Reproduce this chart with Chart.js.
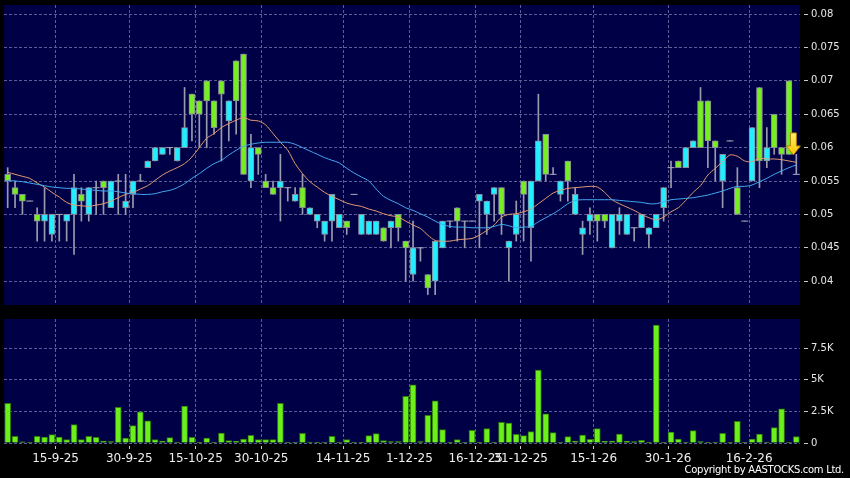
<!DOCTYPE html>
<html lang="en">
<head>
<meta charset="UTF-8" />
<title>Price and Volume</title>
<script src="https://cdn.jsdelivr.net/npm/chart.js"></script>
<style>
  body { margin: 0; background: #000; width: 850px; height: 478px; overflow: hidden; position: relative; font-family: "DejaVu Sans", sans-serif; }
  #pricebox { position: absolute; left: 0; top: 0; width: 850px; height: 310px; }
  #volbox { position: absolute; left: 0; top: 310px; width: 850px; height: 168px; }
  #copy { position: absolute; right: 6px; top: 464px; color: #fff; font-size: 10px; letter-spacing: -0.3px; }
</style>
</head>
<body>
<div id="pricebox"><canvas id="priceChart"></canvas></div>
<div id="volbox"><canvas id="volChart"></canvas></div>
<div id="copy">Copyright by AASTOCKS.com Ltd.</div>

<script>
// daily candles, oldest first
const opens = [
  .056,.054,.053,.052,.050,.049,.047,.050,.049,.050,
  .053,.050,.054,.055,.051,.055,.051,.053,.055,.057,
  .058,.059,.060,.058,.060,.068,.067,.070,.067,.070,
  .064,.073,.074,.055,.060,.055,.054,.054,.054,.052,
  .054,.050,.049,.047,.049,.048,.049,.053,.047,.047,
  .047,.048,.048,.050,.046,.041,.045,.041,.040,.045,
  .049,.051,.049,.049,.052,.050,.053,.054,.045,.047,
  .055,.048,.055,.062,.056,.053,.058,.050,.047,.049,
  .050,.050,.045,.049,.047,.048,.048,.047,.048,.051,
  .057,.058,.057,.060,.067,.067,.061,.055,.061,.054,
  .049,.055,.069,.058,.065,.060,.070,.056
];
const highs = [
  .057,.055,.053,.052,.051,.054,.050,.050,.050,.056,
  .054,.054,.055,.055,.055,.056,.056,.055,.056,.058,
  .060,.060,.060,.060,.069,.068,.067,.070,.067,.070,
  .067,.073,.074,.062,.060,.056,.055,.059,.054,.054,
  .056,.051,.050,.049,.053,.050,.049,.053,.050,.049,
  .049,.048,.049,.050,.046,.049,.045,.041,.046,.049,
  .049,.051,.049,.049,.053,.052,.054,.054,.046,.052,
  .055,.055,.068,.062,.057,.055,.058,.054,.049,.051,
  .050,.050,.050,.051,.050,.048,.050,.048,.050,.054,
  .058,.058,.060,.061,.069,.067,.061,.059,.061,.057,
  .049,.063,.069,.063,.065,.060,.070,.059
];
const lows = [
  .051,.051,.050,.052,.046,.046,.046,.046,.046,.044,
  .049,.049,.050,.050,.051,.050,.050,.051,.055,.057,
  .058,.059,.059,.058,.060,.061,.060,.060,.062,.058,
  .061,.062,.056,.054,.056,.054,.053,.049,.052,.052,
  .050,.050,.048,.046,.046,.048,.047,.053,.047,.047,
  .047,.046,.045,.046,.040,.040,.043,.038,.038,.045,
  .048,.046,.045,.049,.045,.047,.049,.047,.040,.046,
  .046,.043,.055,.055,.056,.052,.052,.050,.044,.047,
  .046,.048,.045,.047,.047,.046,.048,.045,.048,.049,
  .054,.057,.057,.060,.060,.057,.055,.051,.061,.050,
  .049,.055,.054,.057,.059,.056,.059,.056
];
const closes = [
  .055,.053,.052,.052,.049,.050,.050,.050,.050,.054,
  .052,.054,.054,.054,.055,.055,.052,.055,.055,.058,
  .060,.060,.060,.060,.063,.065,.065,.067,.063,.068,
  .067,.067,.056,.060,.059,.054,.053,.055,.054,.053,
  .051,.051,.050,.049,.053,.050,.048,.053,.050,.049,
  .049,.046,.049,.048,.045,.045,.045,.039,.046,.049,
  .049,.049,.049,.049,.053,.052,.054,.050,.046,.050,
  .053,.055,.061,.056,.056,.055,.055,.053,.048,.050,
  .049,.049,.050,.050,.050,.048,.050,.048,.050,.054,
  .057,.057,.060,.061,.060,.061,.060,.059,.061,.050,
  .049,.063,.058,.060,.060,.059,.059,.056
];
const volumes = [
  3130,526,100,80,526,473,658,473,263,1447,
  263,526,447,158,105,2815,395,1368,2473,1762,
  263,158,421,80,2920,447,26,395,30,789,
  184,130,316,605,263,263,263,3130,26,26,
  763,80,53,80,526,80,263,26,53,579,
  737,184,105,105,3682,4605,105,2183,3340,1052,
  53,263,53,1000,26,1131,26,1631,1578,684,
  579,894,5760,2315,815,80,500,158,631,289,
  1131,131,158,710,131,105,210,26,9310,26,
  868,316,26,973,105,26,80,763,26,1710,
  26,316,710,80,1210,2710,80,500
];
// moving averages as drawn (short = orange, long = blue)
const maShort = [
  .0563,.0560,.0557,.0554,.0547,.0541,.0533,.0526,.0518,.0514,
  .0513,.0512,.0514,.0516,.0520,.0525,.0530,.0533,.0538,.0543,
  .0551,.0559,.0565,.0570,.0576,.0586,.0600,.0614,.0621,.0630,
  .0636,.0641,.0645,.0641,.0640,.0634,.0621,.0608,.0596,.0576,
  .0561,.0549,.0541,.0533,.0527,.0522,.0517,.0514,.0512,.0508,
  .0505,.0501,.0498,.0496,.0490,.0484,.0479,.0469,.0461,.0460,
  .0460,.0462,.0463,.0464,.0469,.0476,.0484,.0496,.0500,.0501,
  .0504,.0508,.0516,.0524,.0532,.0536,.0539,.0540,.0541,.0542,
  .0541,.0533,.0522,.0516,.0511,.0506,.0500,.0495,.0492,.0496,
  .0504,.0510,.0521,.0533,.0543,.0559,.0569,.0579,.0589,.0587,
  .0580,.0579,.0584,.0583,.0583,.0582,.0580,.0578
];
const maLong = [
  .0551,.0550,.0549,.0547,.0545,.0543,.0541,.0540,.0539,.0539,
  .0538,.0537,.0536,.0535,.0535,.0534,.0532,.0531,.0530,.0530,
  .0531,.0534,.0536,.0540,.0546,.0554,.0561,.0569,.0576,.0581,
  .0589,.0596,.0602,.0605,.0607,.0608,.0608,.0608,.0608,.0605,
  .0600,.0595,.0590,.0585,.0581,.0577,.0569,.0562,.0556,.0550,
  .0538,.0527,.0521,.0516,.0510,.0506,.0501,.0496,.0490,.0485,
  .0482,.0481,.0481,.0480,.0480,.0480,.0482,.0485,.0483,.0480,
  .0481,.0482,.0489,.0495,.0501,.0508,.0516,.0521,.0522,.0522,
  .0522,.0522,.0522,.0521,.0520,.0519,.0518,.0516,.0516,.0519,
  .0522,.0523,.0524,.0525,.0527,.0529,.0532,.0535,.0539,.0542,
  .0542,.0544,.0549,.0554,.0560,.0565,.0570,.0574
];

// date ticks sit between sessions, so they are given as index positions
const tickPos  = [6.5, 16.5, 25.5, 34.4, 45.5, 54.5, 63.5, 69.6, 79.5, 89.6, 100.6];
const tickText = ['15-9-25','30-9-25','15-10-25','30-10-25','14-11-25','1-12-25','16-12-25','31-12-25','15-1-26','30-1-26','16-2-26'];
const priceTicks = [0.04, 0.045, 0.05, 0.055, 0.06, 0.065, 0.07, 0.075, 0.08];
const volTicks = [0, 2500, 5000, 7500];
const volTickText = ['0', '2.5K', '5K', '7.5K'];

// last-price marker
const arrowAt = 106.6;
const arrowTop = 0.0622;
const arrowTip = 0.0589;

const days = opens.map((_, i) => i);

const upColor = '#22eeff';
const downColor = '#77ee22';
const gridColor = '#5c5c96';
const bgColor = '#000046';

Chart.defaults.font.family = 'DejaVu Sans';
Chart.defaults.animation = false;

const areaFill = {
    id: 'areaFill',
    beforeDraw(chart) {
        const a = chart.chartArea;
        const ctx = chart.ctx;
        ctx.save();
        ctx.fillStyle = bgColor;
        ctx.fillRect(a.left, a.top, a.right - a.left, a.bottom - a.top);
        ctx.restore();
    }
};

const lastArrow = {
    id: 'lastArrow',
    afterDatasetsDraw(chart) {
        const ctx = chart.ctx;
        const cx = chart.scales.x.getPixelForValue(arrowAt);
        const top = chart.scales.y.getPixelForValue(arrowTop);
        const tip = chart.scales.y.getPixelForValue(arrowTip);
        const neck = tip - 9;
        ctx.save();
        ctx.beginPath();
        ctx.moveTo(cx - 3, top);
        ctx.lineTo(cx + 3, top);
        ctx.lineTo(cx + 3, neck);
        ctx.lineTo(cx + 7, neck);
        ctx.lineTo(cx, tip);
        ctx.lineTo(cx - 7, neck);
        ctx.lineTo(cx - 3, neck);
        ctx.closePath();
        const g = ctx.createLinearGradient(0, top, 0, tip);
        g.addColorStop(0, '#fff070');
        g.addColorStop(1, '#ffc400');
        ctx.fillStyle = g;
        ctx.fill();
        ctx.strokeStyle = '#b88000';
        ctx.lineWidth = 1;
        ctx.stroke();
        ctx.restore();
    }
};

function xAxis(showLabels) {
    return {
        type: 'linear',
        min: -0.5,
        max: days.length - 0.5,
        offset: false,
        afterBuildTicks: s => { s.ticks = tickPos.map(v => ({ value: v })); },
        afterFit: s => {
            s.height = showLabels ? 35 : 0;
            s.paddingLeft = 0;
            s.paddingRight = 0;
        },
        grid: {
            color: gridColor,
            offset: false,
            drawTicks: showLabels,
            tickLength: 6,
            tickColor: '#c8c8c8',
            tickBorderDash: [0, 3, 3, 0]
        },
        border: { display: false, dash: [3, 2] },
        ticks: {
            display: showLabels,
            autoSkip: false,
            maxRotation: 0,
            minRotation: 0,
            padding: 3,
            color: '#eeeeee',
            font: { size: 12 },
            callback: (v, i) => tickText[i]
        }
    };
}

function yAxis(min, max, values, label) {
    return {
        position: 'right',
        min: min,
        max: max,
        afterBuildTicks: s => { s.ticks = values.map(v => ({ value: v })); },
        afterFit: s => {
            s.width = 50;
            s.paddingTop = 0;
            s.paddingBottom = 0;
        },
        grid: {
            color: gridColor,
            tickLength: 8,
            tickColor: '#c8c8c8',
            tickBorderDash: [0, 4, 4, 0]
        },
        border: { display: false, dash: [3, 2] },
        ticks: {
            color: '#e8e8e8',
            padding: 3,
            font: { size: 10 },
            callback: label
        }
    };
}

new Chart(document.getElementById('priceChart'), {
    type: 'bar',
    data: {
        datasets: [
            {
                label: 'range',
                data: days.map(i => ({ x: i, y: [lows[i], highs[i]] })),
                backgroundColor: '#9a9aae',
                barThickness: 1,
                grouped: false,
                order: 5
            },
            {
                label: 'body',
                data: days.filter(i => opens[i] !== closes[i]).map(i => ({
                    x: i,
                    y: [Math.min(opens[i], closes[i]), Math.max(opens[i], closes[i])],
                    up: closes[i] > opens[i]
                })),
                backgroundColor: c => (c.raw && c.raw.up ? upColor : downColor),
                borderColor: '#8a8a9c',
                borderWidth: 1,
                borderSkipped: false,
                barThickness: 6,
                grouped: false,
                order: 4
            },
            {
                type: 'line',
                label: 'flat',
                data: days.filter(i => opens[i] === closes[i]).map(i => ({ x: i, y: closes[i] })),
                showLine: false,
                pointStyle: 'line',
                pointRadius: 3.5,
                pointBorderColor: '#a8a8bc',
                pointBorderWidth: 1,
                order: 3
            },
            {
                type: 'line',
                label: 'MA short',
                data: days.map(i => ({ x: i, y: maShort[i] })),
                borderColor: '#e39a70',
                borderWidth: 1,
                pointRadius: 0,
                tension: 0.3,
                order: 2
            },
            {
                type: 'line',
                label: 'MA long',
                data: days.map(i => ({ x: i, y: maLong[i] })),
                borderColor: '#42a8f0',
                borderWidth: 1,
                pointRadius: 0,
                tension: 0.3,
                order: 1
            }
        ]
    },
    options: {
        responsive: true,
        maintainAspectRatio: false,
        events: [],
        layout: { autoPadding: false, padding: { left: 4, top: 5, right: 0, bottom: 5 } },
        plugins: { legend: { display: false }, tooltip: { enabled: false } },
        scales: {
            x: xAxis(false),
            y: yAxis(0.03644, 0.08135, priceTicks, v => String(+v.toFixed(3)))
        }
    },
    plugins: [areaFill, lastArrow]
});

new Chart(document.getElementById('volChart'), {
    type: 'bar',
    data: {
        datasets: [{
            label: 'Volume',
            data: days.map(i => ({ x: i, y: volumes[i] })),
            backgroundColor: '#6cf01c',
            borderColor: '#2f7a0a',
            borderWidth: 1,
            barThickness: 6,
            grouped: false
        }]
    },
    options: {
        responsive: true,
        maintainAspectRatio: false,
        events: [],
        layout: { autoPadding: false, padding: { left: 4, top: 9, right: 0, bottom: 0 } },
        plugins: { legend: { display: false }, tooltip: { enabled: false } },
        scales: {
            x: xAxis(true),
            y: yAxis(0, 9800, volTicks, (v, i) => volTickText[i])
        }
    },
    plugins: [areaFill]
});
</script>
</body>
</html>
